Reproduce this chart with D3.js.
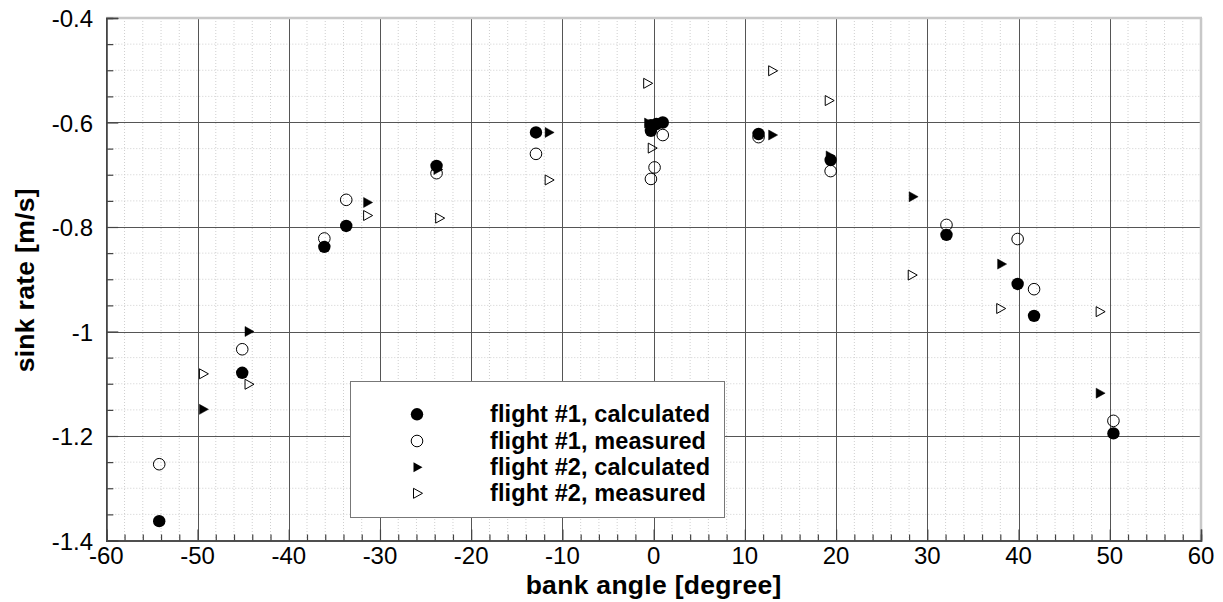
<!DOCTYPE html>
<html>
<head>
<meta charset="utf-8">
<script src="https://cdn.jsdelivr.net/npm/d3@7"></script>
<style>
  body { margin: 0; background: #fff; }
  svg { display: block; }
  text { font-family: "Liberation Sans", Arial, Helvetica, sans-serif; fill: #000; }
</style>
</head>
<body>
<svg id="chart" width="1223" height="602"></svg>
<script>
// ---- data ----
const xTicks = [-60, -50, -40, -30, -20, -10, 0, 10, 20, 30, 40, 50, 60];
const yTicks = [-0.4, -0.6, -0.8, -1, -1.2, -1.4];
const yTickLabels = ["-0.4", "-0.6", "-0.8", "-1", "-1.2", "-1.4"];

const f1calcX = [-54.2, -45.1, -36.1, -33.7, -23.8, -12.9, -0.3, -0.3, 0.3, 1.0, 11.5, 19.4, 32.1, 39.9, 41.7, 50.4];
const f1calcY = [-1.363, -1.079, -0.838, -0.798, -0.683, -0.619, -0.616, -0.605, -0.603, -0.600, -0.622, -0.672, -0.815, -0.909, -0.970, -1.195];

const f1measX = [-54.2, -45.1, -36.1, -33.7, -23.8, -12.9, -0.3, 0.1, 1.0, 11.5, 19.4, 32.1, 39.9, 41.7, 50.4];
const f1measY = [-1.254, -1.034, -0.822, -0.748, -0.697, -0.660, -0.708, -0.686, -0.624, -0.628, -0.693, -0.796, -0.823, -0.919, -1.171];

const f2calcX = [-49.3, -44.3, -31.3, -23.6, -11.4, -0.5, 13.1, 19.4, 28.5, 38.2, 49.0];
const f2calcY = [-1.149, -1.000, -0.753, -0.690, -0.619, -0.601, -0.624, -0.664, -0.742, -0.871, -1.118];

const f2measX = [-49.3, -44.3, -31.3, -23.4, -11.4, -0.6, -0.1, 13.1, 19.3, 28.4, 38.1, 49.0];
const f2measY = [-1.081, -1.101, -0.778, -0.783, -0.710, -0.525, -0.649, -0.501, -0.558, -0.892, -0.956, -0.962];

const legendLabels = ["flight #1, calculated", "flight #1, measured", "flight #2, calculated", "flight #2, measured"];

// ---- layout ----
const L = 106.3, R = 1201, T = 18, B = 540.5;
const svg = d3.select("#chart");
const x = d3.scaleLinear().domain([-60, 60]).range([L, R]);
const y = d3.scaleLinear().domain([-1.4, -0.4]).range([B, T]);

const xMinor = d3.range(-60, 60.001, 2).filter(v => Math.abs(v % 10) > 1e-6);
const yMinor = d3.range(-1.4, -0.3999, 0.05).map(v => +v.toFixed(2)).filter(v => Math.abs(Math.round(v * 100) % 20) > 1e-6);

// minor grid
const g = svg.append("g");
g.selectAll(".mgx").data(xMinor).join("line")
  .attr("x1", d => x(d)).attr("x2", d => x(d)).attr("y1", T).attr("y2", B)
  .attr("stroke", "#cfcfcf").attr("stroke-width", 1).attr("stroke-dasharray", "1,2");
g.selectAll(".mgy").data(yMinor).join("line")
  .attr("y1", d => y(d)).attr("y2", d => y(d)).attr("x1", L).attr("x2", R)
  .attr("stroke", "#cfcfcf").attr("stroke-width", 1).attr("stroke-dasharray", "1,2");

// major grid
g.selectAll(".gx").data(xTicks.slice(1, -1)).join("line")
  .attr("x1", d => Math.round(x(d)) + 0.5).attr("x2", d => Math.round(x(d)) + 0.5).attr("y1", T).attr("y2", B)
  .attr("stroke", "#555").attr("stroke-width", 1);
g.selectAll(".gy").data(yTicks.slice(1, -1)).join("line")
  .attr("y1", d => Math.round(y(d)) + 0.5).attr("y2", d => Math.round(y(d)) + 0.5).attr("x1", L).attr("x2", R)
  .attr("stroke", "#555").attr("stroke-width", 1);

// frame: top and right light gray
svg.append("line").attr("x1", L).attr("x2", R + 1).attr("y1", T).attr("y2", T).attr("stroke", "#c8c8c8").attr("stroke-width", 2.5);
svg.append("line").attr("x1", R).attr("x2", R).attr("y1", T).attr("y2", B).attr("stroke", "#c8c8c8").attr("stroke-width", 2.5);

// axes with inward ticks
const xAxis = svg.append("g").attr("transform", `translate(0,${B})`)
  .call(d3.axisBottom(x).tickValues(xTicks).tickSize(-11).tickFormat(""));
const xAxisMinor = svg.append("g").attr("transform", `translate(0,${B})`)
  .call(d3.axisBottom(x).tickValues(xMinor).tickSize(-6).tickFormat(""));
const yAxis = svg.append("g").attr("transform", `translate(${L},0)`)
  .call(d3.axisLeft(y).tickValues(yTicks).tickSize(-12).tickFormat(""));
const yAxisMinor = svg.append("g").attr("transform", `translate(${L},0)`)
  .call(d3.axisLeft(y).tickValues(yMinor).tickSize(-7).tickFormat(""));
[xAxis, xAxisMinor, yAxis, yAxisMinor].forEach(a => {
  a.selectAll("path").attr("stroke", "#444").attr("stroke-width", 1.5);
  a.selectAll("line").attr("stroke", "#444").attr("stroke-width", 1.2);
});

// tick labels
svg.append("g").selectAll("text").data(xTicks).join("text")
  .attr("x", d => x(d)).attr("y", 564)
  .attr("text-anchor", "middle").attr("font-size", 24).text(d => d);
svg.append("g").selectAll("text").data(yTicks).join("text")
  .attr("x", 93).attr("y", d => y(d) + 9)
  .attr("text-anchor", "end").attr("font-size", 24).text((d, i) => yTickLabels[i]);

// axis titles
svg.append("text").attr("x", (L + R) / 2).attr("y", 594)
  .attr("text-anchor", "middle").attr("font-size", 26.5).attr("font-weight", "bold")
  .attr("letter-spacing", 0.3).text("bank angle [degree]");
svg.append("text").attr("transform", `translate(34,${(T + B) / 2 + 1}) rotate(-90)`)
  .attr("text-anchor", "middle").attr("font-size", 26.5).attr("font-weight", "bold")
  .attr("letter-spacing", 0.3).text("sink rate [m/s]");

// markers
const triPath = "M-4.5,-5 L4.5,0 L-4.5,5 Z";
function circles(xs, ys, filled) {
  svg.append("g").selectAll("circle").data(xs).join("circle")
    .attr("cx", d => x(d)).attr("cy", (d, i) => y(ys[i])).attr("r", filled ? 6.2 : 5.8)
    .attr("fill", filled ? "#000" : "none").attr("stroke", "#000").attr("stroke-width", filled ? 0 : 1);
}
function tris(xs, ys, filled) {
  svg.append("g").selectAll("path").data(xs).join("path")
    .attr("transform", (d, i) => `translate(${x(d)},${y(ys[i])})`)
    .attr("d", triPath)
    .attr("fill", filled ? "#000" : "none").attr("stroke", "#000").attr("stroke-width", filled ? 0.5 : 1);
}
circles(f1measX, f1measY, false);
tris(f2measX, f2measY, false);
tris(f2calcX, f2calcY, true);
circles(f1calcX, f1calcY, true);

// legend
const lg = svg.append("g");
lg.append("rect").attr("x", 350.5).attr("y", 381.5).attr("width", 374).attr("height", 136)
  .attr("fill", "#fff").attr("stroke", "#777").attr("stroke-width", 1);
const rowY = [414.3, 441, 467.3, 493.3];
lg.append("circle").attr("cx", 417).attr("cy", rowY[0]).attr("r", 6.2).attr("fill", "#000");
lg.append("circle").attr("cx", 417).attr("cy", rowY[1]).attr("r", 5.8).attr("fill", "none").attr("stroke", "#000");
lg.append("path").attr("transform", `translate(418,${rowY[2]})`).attr("d", triPath).attr("fill", "#000");
lg.append("path").attr("transform", `translate(418,${rowY[3]})`).attr("d", triPath).attr("fill", "none").attr("stroke", "#000");
lg.selectAll("text").data(legendLabels).join("text")
  .attr("x", 490).attr("y", (d, i) => rowY[i] + 7.8)
  .attr("font-size", 23.5).attr("font-weight", "bold").attr("letter-spacing", 0.1)
  .text(d => d);
</script>
</body>
</html>
